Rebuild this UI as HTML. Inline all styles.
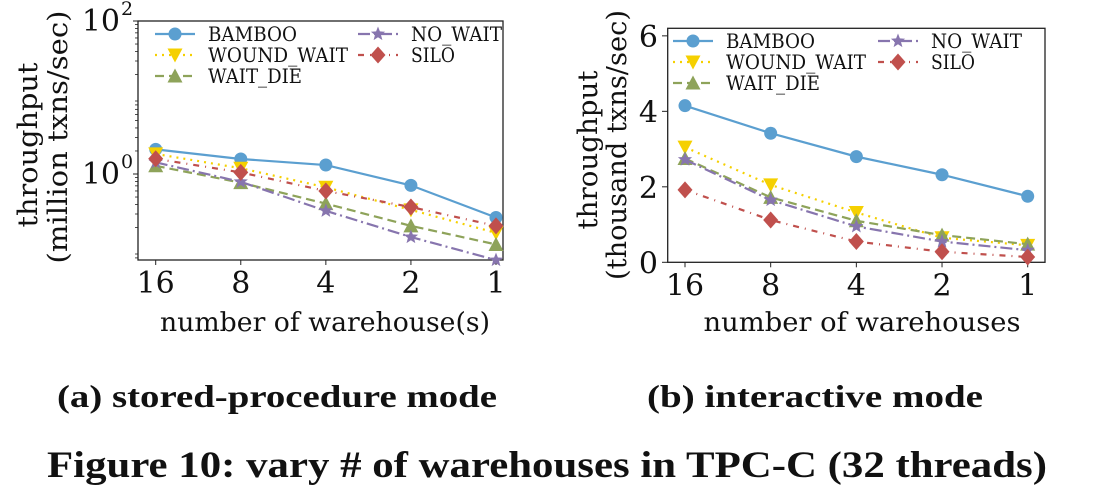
<!DOCTYPE html>
<html><head><meta charset="utf-8"><style>
body{margin:0;background:#fff}
svg{display:block}
text{font-family:"DejaVu Serif","Liberation Serif",serif;fill:#111}
</style></head><body>
<svg id="s" width="1094" height="500" viewBox="0 0 1094 500">
<g id="L"></g>
<g id="R"></g>
<text x="277" y="407" text-anchor="middle" font-size="32" font-weight="bold" style="font-family:'Liberation Serif',serif" textLength="440" lengthAdjust="spacingAndGlyphs">(a) stored-procedure mode</text>
<text x="815" y="407" text-anchor="middle" font-size="32" font-weight="bold" style="font-family:'Liberation Serif',serif" textLength="336" lengthAdjust="spacingAndGlyphs">(b) interactive mode</text>
<text x="547" y="477" text-anchor="middle" font-size="37" font-weight="bold" style="font-family:'Liberation Serif',serif" textLength="1000" lengthAdjust="spacingAndGlyphs">Figure 10: vary # of warehouses in TPC-C (32 threads)</text>
</svg>
<script>
const categories = ["16","8","4","2","1"];
const seriesNames = ["BAMBOO","WOUND_WAIT","WAIT_DIE","NO_WAIT","SILO"];
const leftBamboo = [2.1,1.57,1.31,0.71,0.27];
const leftWound = [1.83,1.19,0.67,0.34,0.17];
const leftWaitDie = [1.28,0.77,0.41,0.21,0.12];
const leftNoWait = [1.42,0.79,0.33,0.15,0.075];
const leftSilo = [1.58,1.05,0.60,0.37,0.21];
const rightBamboo = [4.15,3.42,2.8,2.32,1.75];
const rightWound = [3.05,2.05,1.32,0.65,0.45];
const rightWaitDie = [2.75,1.72,1.1,0.72,0.48];
const rightNoWait = [2.72,1.65,0.95,0.55,0.32];
const rightSilo = [1.92,1.12,0.55,0.28,0.14];
const rightTicks = [0,2,4,6];

const NS="http://www.w3.org/2000/svg";
const legLen=[89,140,94,91,44];
const styles=[
 {c:"#5b9fd0",dash:"",m:"circle"},
 {c:"#f5d000",dash:"2,5",m:"tri-down"},
 {c:"#8ea35a",dash:"9,5",m:"tri-up"},
 {c:"#8775ae",dash:"12,4,2,4",m:"star"},
 {c:"#c0504d",dash:"6,6,1,6",m:"diamond"}];
function el(p,t,a){const e=document.createElementNS(NS,t);for(const k in a)e.setAttribute(k,a[k]);p.appendChild(e);return e;}
function marker(g,type,x,y,c){
 let e;
 if(type==="circle")e=el(g,"circle",{cx:x,cy:y,r:6.5,fill:c});
 else if(type==="tri-down")e=el(g,"polygon",{points:`${x-7.5},${y-6.5} ${x+7.5},${y-6.5} ${x},${y+7.5}`,fill:c});
 else if(type==="tri-up")e=el(g,"polygon",{points:`${x-7.5},${y+6.5} ${x+7.5},${y+6.5} ${x},${y-7.5}`,fill:c});
 else if(type==="diamond")e=el(g,"polygon",{points:`${x},${y-8.5} ${x+7.5},${y} ${x},${y+8.5} ${x-7.5},${y}`,fill:c});
 else{let p=[];for(let i=0;i<10;i++){const r=i%2?3.2:7.5,a=-Math.PI/2+i*Math.PI/5;p.push((x+r*Math.cos(a)).toFixed(1)+","+(y+r*Math.sin(a)).toFixed(1));}e=el(g,"polygon",{points:p.join(" "),fill:c});}
 return e;
}
function chart(g,cfg){
 const {x0,x1,y0,y1,xs,yf,data}=cfg;
 el(g,"rect",{x:x0,y:y0,width:x1-x0,height:y1-y0,fill:"none",stroke:"#222","stroke-width":1.3});
 categories.forEach((c,i)=>{
  const x=xs(i);
  el(g,"line",{x1:x,x2:x,y1:y1,y2:y1+5,stroke:"#222"});
  const t=el(g,"text",{x:x,y:y1+33,"text-anchor":"middle","font-size":30});t.textContent=c;
  
  
 });
 data.forEach((vals,si)=>{
  const s=styles[si];
  const sg=el(g,"g",{});
  
  
  const pts=vals.map((v,i)=>[xs(i),yf(v)]);
  el(sg,"polyline",{points:pts.map(p=>p.join(",")).join(" "),fill:"none",stroke:s.c,"stroke-width":2.2,"stroke-dasharray":s.dash});
  pts.forEach(p=>{const m=marker(sg,s.m,p[0],p[1],s.c);
   
   });
 });
 const L=cfg.leg;
 seriesNames.forEach((n,i)=>{
  const col=i<3?0:1,row=i<3?i:i-3;
  const lx=L.cx[col],ly=L.y[row],s=styles[i];
  const lg=el(g,"g",{});
  
  
  el(lg,"line",{x1:lx,x2:lx+40,y1:ly,y2:ly,stroke:s.c,"stroke-width":2.2,"stroke-dasharray":s.dash});
  marker(lg,s.m,lx+20,ly,s.c);
  const t=el(lg,"text",{x:lx+53,y:ly+7,"font-size":20,textLength:legLen[i],lengthAdjust:"spacingAndGlyphs"});t.textContent=n;
 });
}
// left
const Ltop=21,Lbot=260,Ldec=76.5,Lzero=174;
const gL=document.getElementById("L");
chart(gL,{x0:138,x1:503,y0:Ltop,y1:Lbot,
 xs:i=>155.7+i*(496-155.7)/(categories.length-1),
 yf:v=>Lzero-Math.log10(v)*Ldec,
 data:[leftBamboo,leftWound,leftWaitDie,leftNoWait,leftSilo],
 leg:{cx:[155,358],y:[34,55,76]}});
[[0,"0"],[2,"2"]].forEach(([e,s])=>{
 const y=Lzero-e*Ldec;
 el(gL,"line",{x1:133,x2:138,y1:y,y2:y,stroke:"#222"});
 const t=el(gL,"text",{x:120,y:y+10,"text-anchor":"end","font-size":30});t.textContent="10";
 const u=el(gL,"text",{x:121,y:y-6,"font-size":19});u.textContent=s;
});
for(let d=-2;d<2;d++)for(let k=2;k<10;k++){const y=Lzero-(d+Math.log10(k))*Ldec;if(y>Ltop&&y<Lbot)el(gL,"line",{x1:135,x2:138,y1:y,y2:y,stroke:"#222","stroke-width":0.8});}
let t=el(gL,"text",{x:325,y:331,"text-anchor":"middle","font-size":26,textLength:330,lengthAdjust:"spacingAndGlyphs"});t.textContent="number of warehouse(s)";
t=el(gL,"text",{transform:"translate(37,145) rotate(-90)","text-anchor":"middle","font-size":27,textLength:165,lengthAdjust:"spacingAndGlyphs"});t.textContent="throughput";
t=el(gL,"text",{transform:"translate(67,137) rotate(-90)","text-anchor":"middle","font-size":27,textLength:253,lengthAdjust:"spacingAndGlyphs"});t.textContent="(million txns/sec)";
// right
const Rtop=28.3,Rbot=262.3,Rmax=6.2;
const gR=document.getElementById("R");
const ry=v=>Rbot-v/Rmax*(Rbot-Rtop);
chart(gR,{x0:667.7,x1:1045,y0:Rtop,y1:Rbot,
 xs:i=>685+i*(1027.7-685)/(categories.length-1),
 yf:ry,
 data:[rightBamboo,rightWound,rightWaitDie,rightNoWait,rightSilo],
 leg:{cx:[673,878],y:[41,62,83]}});
rightTicks.forEach(v=>{const y=ry(v);
 el(gR,"line",{x1:662,x2:667.7,y1:y,y2:y,stroke:"#222"});
 const tt=el(gR,"text",{x:658,y:y+11,"text-anchor":"end","font-size":30});tt.textContent=v;});
t=el(gR,"text",{x:862,y:331,"text-anchor":"middle","font-size":26,textLength:317,lengthAdjust:"spacingAndGlyphs"});t.textContent="number of warehouses";
t=el(gR,"text",{transform:"translate(597,150) rotate(-90)","text-anchor":"middle","font-size":27,textLength:159,lengthAdjust:"spacingAndGlyphs"});t.textContent="throughput";
t=el(gR,"text",{transform:"translate(626,145) rotate(-90)","text-anchor":"middle","font-size":27,textLength:270,lengthAdjust:"spacingAndGlyphs"});t.textContent="(thousand txns/sec)";
</script>
</body></html>
